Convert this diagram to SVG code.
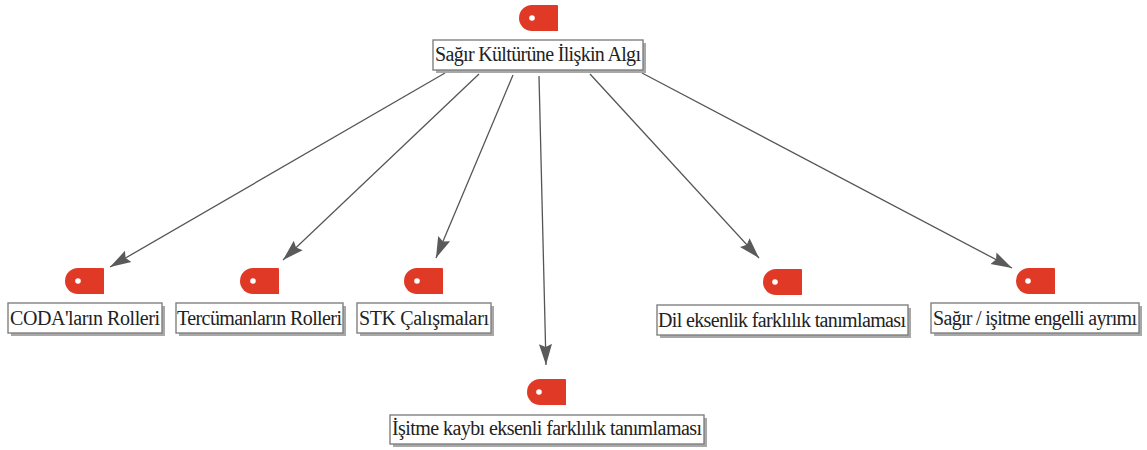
<svg xmlns="http://www.w3.org/2000/svg" width="1147" height="450" viewBox="0 0 1147 450">
<style>
.box{fill:#fff;stroke:#808080;stroke-width:1.4}
.shadow{fill:#a8a8a8}
.lbl{font-family:"Liberation Serif",serif;font-size:20px;fill:#222}
.tag{fill:#e03a26}
.hole{fill:#fff}
.edge{stroke:#555;stroke-width:1.3;fill:none;marker-end:url(#arrow)}
</style>
<defs>
<marker id="arrow" markerUnits="userSpaceOnUse" markerWidth="24" markerHeight="16" refX="21" refY="8" orient="auto">
<path d="M0 1.5L21 8L0 14.5L3 8Z" fill="#5a5a5a"/>
</marker>
<path id="tag" d="M13 0H38Q39 0 39 1V26H13A13 13 0 0 1 0 13A13 13 0 0 1 13 0Z"/>
</defs>
<rect width="1147" height="450" fill="#fff"/>
<g id="connectors">
<line class="edge" x1="445" y1="73" x2="110" y2="267"/>
<line class="edge" x1="479" y1="74" x2="283" y2="260"/>
<line class="edge" x1="513" y1="75" x2="436" y2="258"/>
<line class="edge" x1="539" y1="76" x2="546" y2="365"/>
<line class="edge" x1="590" y1="74" x2="759" y2="258"/>
<line class="edge" x1="642" y1="73" x2="1012" y2="268"/>
</g>
<g id="root">
<use href="#tag" class="tag" x="519" y="5"/><circle class="hole" cx="532" cy="18" r="2.8"/>
<rect class="shadow" x="436" y="43" width="210" height="30"/>
<rect class="box" x="433" y="40" width="210" height="30"/>
<text class="lbl" x="435" y="61" textLength="206">Sağır Kültürüne İlişkin Algı</text>
</g>
<g id="coda">
<use href="#tag" class="tag" x="65" y="268"/><circle class="hole" cx="78" cy="281" r="2.8"/>
<rect class="shadow" x="11" y="306" width="154" height="30"/>
<rect class="box" x="8" y="303" width="154" height="30"/>
<text class="lbl" x="10" y="325" textLength="150">CODA'ların Rolleri</text>
</g>
<g id="tercuman">
<use href="#tag" class="tag" x="240" y="268"/><circle class="hole" cx="253" cy="281" r="2.8"/>
<rect class="shadow" x="179" y="306" width="167" height="30"/>
<rect class="box" x="176" y="303" width="167" height="30"/>
<text class="lbl" x="177" y="325" textLength="165">Tercümanların Rolleri</text>
</g>
<g id="stk">
<use href="#tag" class="tag" x="404" y="268"/><circle class="hole" cx="417" cy="281" r="2.8"/>
<rect class="shadow" x="360" y="306" width="134" height="30"/>
<rect class="box" x="357" y="303" width="134" height="30"/>
<text class="lbl" x="359" y="325" textLength="130">STK Çalışmaları</text>
</g>
<g id="isitme">
<use href="#tag" class="tag" x="527" y="379"/><circle class="hole" cx="539" cy="392" r="2.8"/>
<rect class="shadow" x="393" y="418" width="314" height="29"/>
<rect class="box" x="390" y="415" width="314" height="29"/>
<text class="lbl" x="392" y="435" textLength="310">İşitme kaybı eksenli farklılık tanımlaması</text>
</g>
<g id="dil">
<use href="#tag" class="tag" x="763" y="269"/><circle class="hole" cx="775" cy="282" r="2.8"/>
<rect class="shadow" x="660" y="308" width="251" height="30"/>
<rect class="box" x="657" y="305" width="251" height="30"/>
<text class="lbl" x="658" y="327" textLength="248">Dil eksenlik farklılık tanımlaması</text>
</g>
<g id="sagir">
<use href="#tag" class="tag" x="1016" y="268"/><circle class="hole" cx="1028" cy="281" r="2.8"/>
<rect class="shadow" x="934" y="306" width="208" height="30"/>
<rect class="box" x="931" y="303" width="208" height="30"/>
<text class="lbl" x="933" y="325" textLength="204">Sağır / işitme engelli ayrımı</text>
</g>
</svg>
